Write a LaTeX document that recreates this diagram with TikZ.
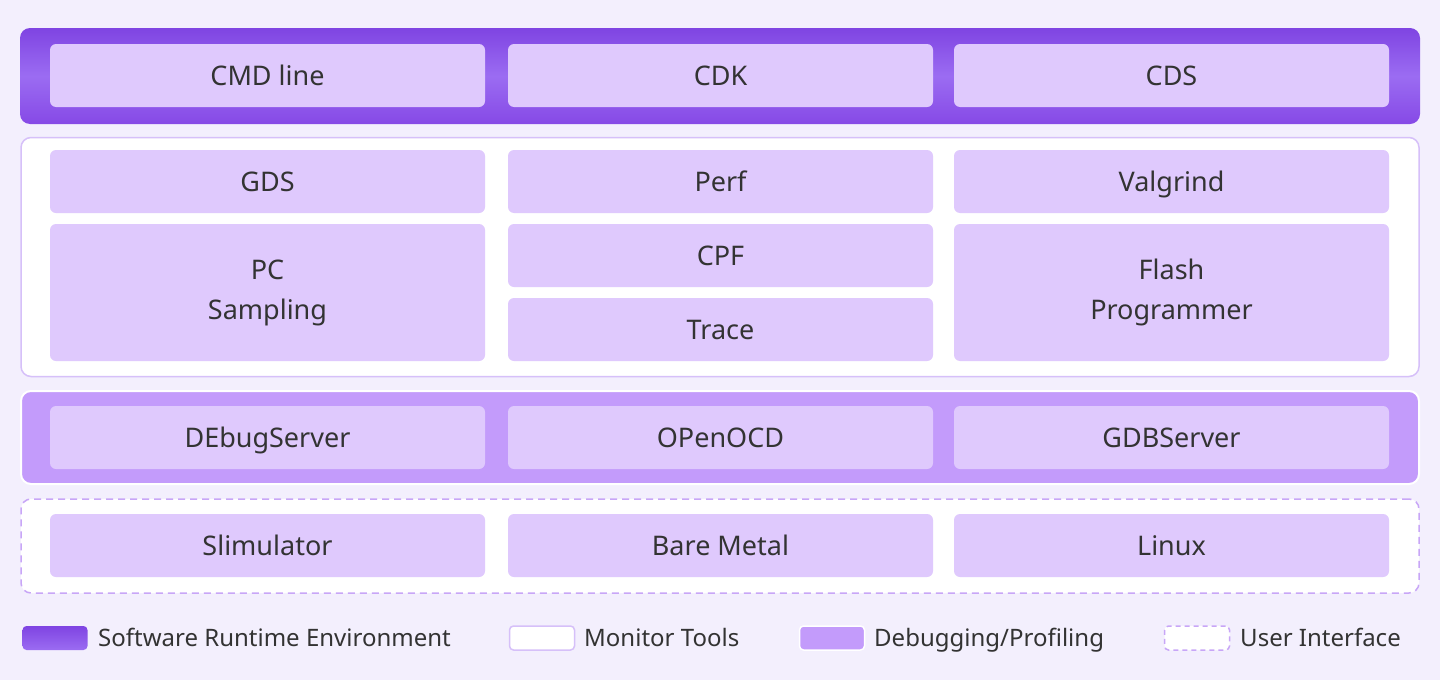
\documentclass[tikz,border=0pt]{standalone}
\usepackage{fontspec}
\setmainfont{Noto Sans}
\definecolor{bgc}{HTML}{F3EFFD}
\definecolor{cellc}{HTML}{DFC9FD}
\definecolor{purpT}{HTML}{7F44E2}
\definecolor{purpM}{HTML}{9B6CF2}
\definecolor{purpB}{HTML}{8649E6}
\definecolor{debugc}{HTML}{C39BFB}
\definecolor{linec}{HTML}{D6C0F9}
\definecolor{dashc}{HTML}{C8A6F7}
\definecolor{txt}{HTML}{333333}
\tikzset{
  cellbase/.style={rectangle, rounded corners=6pt, fill=cellc, text=txt, align=center,
    font=\fontsize{27}{40}\selectfont, inner sep=0pt},
  cell/.style={cellbase, text height=23pt, text depth=4pt},
  band/.style={rectangle, rounded corners=10pt, inner sep=0pt},
  envband/.style={band, top color=purpT, bottom color=purpB, middle color=purpM},
  monband/.style={band, fill=white, draw=linec, line width=1.5pt},
  dbgband/.style={band, fill=debugc, draw=white, line width=2pt},
  uiband/.style={band, fill=white, draw=dashc, line width=1.5pt, dash pattern=on 7pt off 5pt},
  legtext/.style={anchor=west, text=txt, font=\fontsize{24}{28}\selectfont, inner sep=0pt,
    text height=20pt, text depth=3pt},
  swatch/.style={rectangle, rounded corners=4pt, minimum width=65pt, minimum height=24pt, inner sep=0pt},
}
\begin{document}
\begin{tikzpicture}[x=1pt, y=-1pt]
\useasboundingbox (0,0) rectangle (1440,680);
\fill[bgc] (0,0) rectangle (1440,680);
% bands
\node[envband, minimum width=1400pt, minimum height=96pt] (env) at (720,76) {};
\node[monband, minimum width=1398pt, minimum height=239pt] (mon) at (720,257) {};
\node[dbgband, minimum width=1398pt, minimum height=93pt] (dbg) at (720,437.5) {};
\node[uiband, minimum width=1398pt, minimum height=94pt] (ui) at (720,546) {};
% row 1
\node[cell, minimum width=435pt, minimum height=63pt] (cmd) at (267.5,75.5) {CMD line};
\node[cell, minimum width=425pt, minimum height=63pt] (cdk) at (720.5,75.5) {CDK};
\node[cell, minimum width=435pt, minimum height=63pt] (cds) at (1171.5,75.5) {CDS};
% row 2
\node[cell, minimum width=435pt, minimum height=63pt] (gds) at (267.5,181.5) {GDS};
\node[cell, minimum width=425pt, minimum height=63pt] (perf) at (720.5,181.5) {Perf};
\node[cell, minimum width=435pt, minimum height=63pt] (valg) at (1171.5,181.5) {Valgrind};
\node[cellbase, minimum width=435pt, minimum height=137pt] (pcs) at (267.5,292.5) {PC\\Sampling};
\node[cell, minimum width=425pt, minimum height=63pt] (cpf) at (720.5,255.5) {CPF};
\node[cell, minimum width=425pt, minimum height=63pt] (trace) at (720.5,329.5) {Trace};
\node[cellbase, minimum width=435pt, minimum height=137pt] (flash) at (1171.5,292.5) {Flash\\Programmer};
% row 3
\node[cell, minimum width=435pt, minimum height=63pt] (dbs) at (267.5,437.5) {DEbugServer};
\node[cell, minimum width=425pt, minimum height=63pt] (ocd) at (720.5,437.5) {OPenOCD};
\node[cell, minimum width=435pt, minimum height=63pt] (gdbs) at (1171.5,437.5) {GDBServer};
% row 4
\node[cell, minimum width=435pt, minimum height=63pt] (sim) at (267.5,545.5) {Slimulator};
\node[cell, minimum width=425pt, minimum height=63pt] (bare) at (720.5,545.5) {Bare Metal};
\node[cell, minimum width=435pt, minimum height=63pt] (linux) at (1171.5,545.5) {Linux};
% legend
\node[swatch, top color=purpT, bottom color=purpM] (s1) at (55,638) {};
\node[legtext] (l1) at (98,638) {Software Runtime Environment};
\node[swatch, fill=white, draw=linec, line width=1.5pt] (s2) at (542,638) {};
\node[legtext] (l2) at (584,638) {Monitor Tools};
\node[swatch, fill=debugc, draw=white, line width=1.5pt] (s3) at (832,638) {};
\node[legtext] (l3) at (874,638) {Debugging/Profiling};
\node[swatch, fill=white, draw=dashc, line width=1.5pt, dash pattern=on 5pt off 4pt] (s4) at (1197,638) {};
\node[legtext] (l4) at (1240,638) {User Interface};
\end{tikzpicture}
\end{document}
